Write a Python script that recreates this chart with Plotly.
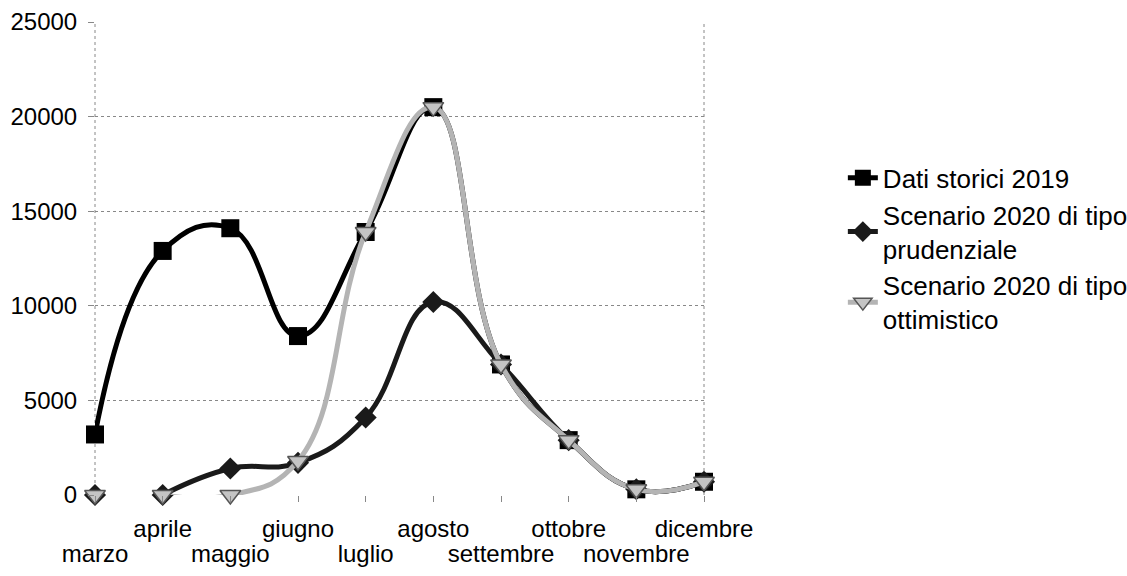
import plotly.graph_objects as go

months = ["marzo", "aprile", "maggio", "giugno", "luglio", "agosto",
          "settembre", "ottobre", "novembre", "dicembre"]
storici_2019 = [3200, 12900, 14100, 8400, 13900, 20500, 6900, 2900, 300, 700]
prudenziale = [0, 0, 1400, 1700, 4100, 10200, 6900, 2900, 300, 700]
ottimistico = [0, 0, 0, 1800, 13900, 20500, 6900, 2900, 300, 700]
y_ticks = [0, 5000, 10000, 15000, 20000, 25000]
y_ticktext = ["0", "5000", "10000", "15000", "20000", "25000"]

names = ["Dati storici 2019", "Scenario 2020 di tipo<br>prudenziale",
         "Scenario 2020 di tipo<br>ottimistico"]

FONT = "Liberation Sans, Arial, sans-serif"
SMOOTH = 1.25

fig = go.Figure()

# historical series
fig.add_trace(go.Scatter(
    x=months, y=storici_2019, name=names[0], mode="lines+markers",
    line=dict(color="#000000", width=5, shape="spline", smoothing=SMOOTH),
    marker=dict(symbol="square", size=18, color="#000000"),
    cliponaxis=False))

# prudential scenario (line from aprile, isolated marzo point)
fig.add_trace(go.Scatter(
    x=months[1:], y=prudenziale[1:], name=names[1], mode="lines+markers",
    line=dict(color="#1a1a1a", width=5, shape="spline", smoothing=SMOOTH),
    marker=dict(symbol="diamond", size=17, color="#1a1a1a"),
    cliponaxis=False))
fig.add_trace(go.Scatter(
    x=months[:1], y=prudenziale[:1], mode="markers", showlegend=False,
    marker=dict(symbol="diamond", size=17, color="#1a1a1a"),
    cliponaxis=False))

# optimistic scenario
fig.add_trace(go.Scatter(
    x=months[1:], y=ottimistico[1:], name=names[2], mode="lines+markers",
    line=dict(color="#b4b4b4", width=5, shape="spline", smoothing=SMOOTH),
    marker=dict(symbol="triangle-down", size=18, color="#c4c4c4",
                line=dict(color="#555555", width=1.5)),
    cliponaxis=False))
fig.add_trace(go.Scatter(
    x=months[:1], y=ottimistico[:1], mode="markers", showlegend=False,
    marker=dict(symbol="triangle-down", size=18, color="#c4c4c4",
                line=dict(color="#555555", width=1.5)),
    cliponaxis=False))

# invisible carrier so the second-row category axis has its categories
fig.add_trace(go.Scatter(
    x=months, y=[None] * len(months), xaxis="x2", mode="markers",
    showlegend=False, hoverinfo="skip"))

tickfont = dict(family=FONT, size=24, color="#000000")

fig.update_layout(
    width=1127, height=576,
    margin=dict(l=95, r=423, t=22, b=81, autoexpand=False),
    paper_bgcolor="white", plot_bgcolor="white",
    font=dict(family=FONT, size=24, color="#000000"),
    showlegend=True,
    legend=dict(x=1.228, y=0.72, xanchor="left", yanchor="top",
                font=dict(family=FONT, size=26, color="#000000"),
                bgcolor="rgba(0,0,0,0)", tracegroupgap=2),
    xaxis=dict(type="category", categoryarray=months, categoryorder="array",
               range=[0, 9], showgrid=False, zeroline=False, showline=False,
               tickmode="array", tickvals=months[1::2], automargin=False,
               ticks="outside", ticklen=6, tickcolor="#888888",
               tickfont=tickfont, ticklabelstandoff=6),
    xaxis2=dict(type="category", categoryarray=months, categoryorder="array",
                overlaying="x", anchor="y", side="bottom", automargin=False,
                range=[0, 9], showgrid=False, zeroline=False, showline=False,
                tickmode="array", tickvals=months[0::2],
                ticks="outside", ticklen=6, tickcolor="#888888",
                tickfont=tickfont, ticklabelstandoff=31),
    yaxis=dict(range=[0, 25000], tickmode="array", tickvals=y_ticks,
               ticktext=y_ticktext, automargin=False,
               showgrid=True, gridcolor="#888888", griddash="dot", gridwidth=1,
               zeroline=False, showline=False,
               ticks="outside", ticklen=6, tickcolor="#888888",
               tickfont=tickfont, ticklabelstandoff=6),
)

# dotted frame lines on left/right edges of the plot area
for xp in (0, 1):
    fig.add_shape(type="line", xref="paper", yref="paper", x0=xp, x1=xp,
                  y0=0, y1=1, line=dict(color="#888888", width=1, dash="dot"),
                  layer="below")

fig.write_html("out.html")
